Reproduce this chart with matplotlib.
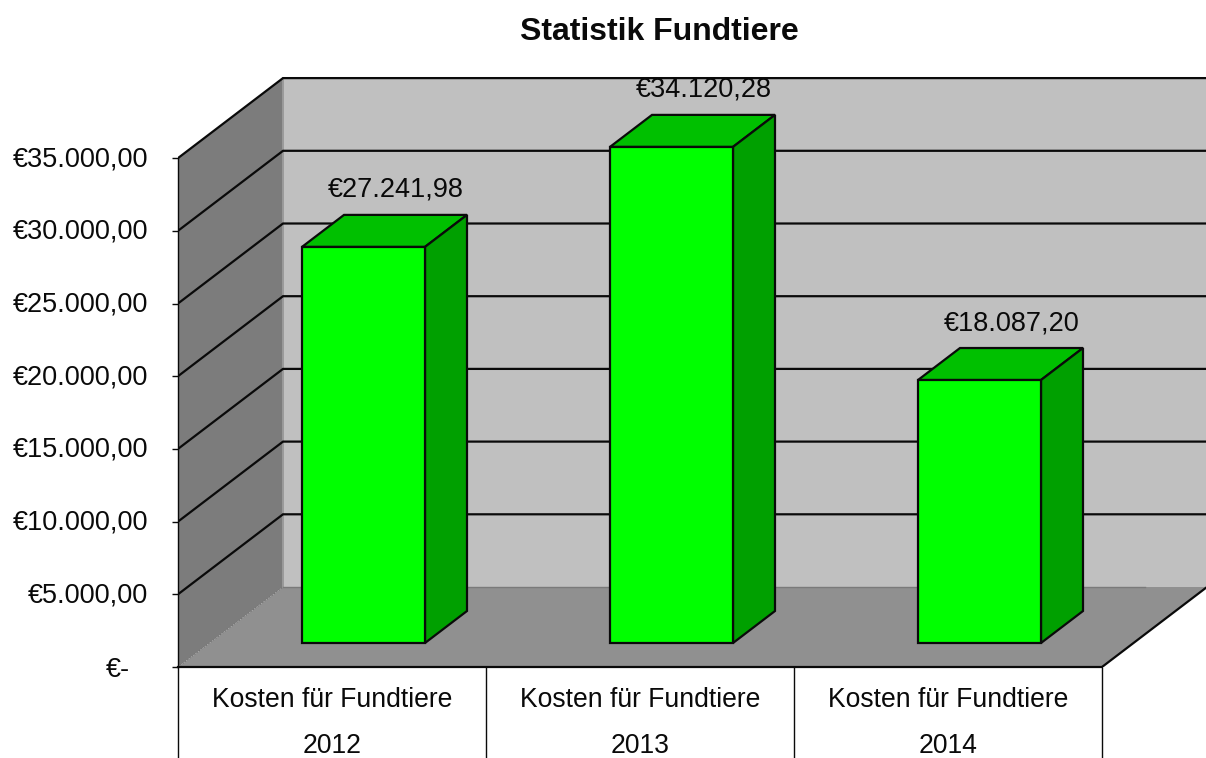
import matplotlib
matplotlib.use('Agg')
import matplotlib.pyplot as plt
from matplotlib.transforms import ScaledTranslation

years = ['2012', '2013', '2014']
category = 'Kosten für Fundtiere'
costs = [27241.98, 34120.28, 18087.20]
cost_labels = ['€27.241,98', '€34.120,28', '€18.087,20']
y_ticks = [0, 5000, 10000, 15000, 20000, 25000, 30000, 35000]
y_labels = ['€-', '€5.000,00', '€10.000,00', '€15.000,00', '€20.000,00',
            '€25.000,00', '€30.000,00', '€35.000,00']
title = 'Statistik Fundtiere'

W, H = 1206, 758
LEFT, BASE = 178, 667          # pixel position of the front axes corner
CAT_PX = 308.0                 # pixels per category
EURO_PX = 5000 / 72.7          # euro per pixel
DEPTH_X = 105 / CAT_PX         # full depth of the box in data units
DEPTH_Y = 80 * EURO_PX
BAR_W = 123 / CAT_PX
Z0, Z1 = 0.3, 0.7              # bar front and back inside the box
EDGE = '#0a0a0a'
LW = 1.6
TXT = '#0a0a0a'

plt.rcParams['font.family'] = ['Liberation Sans', 'DejaVu Sans']
fig = plt.figure(figsize=(W / 100, H / 100), dpi=100)
ax = fig.add_axes([LEFT / W, 1 - BASE / H, (W - LEFT) / W, BASE / H])
ax.set_xlim(0, (W - LEFT) / CAT_PX)
ax.set_ylim(0, BASE * EURO_PX)


def pt(x, y, z=0.0):
    # oblique projection, z runs from the front (0) to the back wall (1)
    return (x + z * DEPTH_X, y + z * DEPTH_Y)


def face(points, color, edge='none', lw=0.0, zorder=1):
    ax.fill(*zip(*points), facecolor=color, edgecolor=edge, linewidth=lw,
            joinstyle='miter', zorder=zorder)


top = y_ticks[-1]
n = len(years)

# walls and floor
face([pt(0, 0, 1), pt(n, 0, 1), pt(n, top, 1), pt(0, top, 1)], '#c0c0c0')
face([pt(0, 0, 0), pt(0, 0, 1), pt(0, top, 1), pt(0, top, 0)], '#7c7c7c')
face([pt(0, 0, 0), pt(n, 0, 0), pt(n, 0, 1), pt(0, 0, 1)], '#909090')
ax.plot(*zip(pt(0, 0, 1), pt(0, top, 1)), color='#9a9a9a', lw=1.4, zorder=2)
ax.plot(*zip(pt(0, 0, 0), pt(0, 0, 1)), color='#6e6e6e', lw=0.8, ls=':', zorder=2)
ax.plot(*zip(pt(0, 0, 1), pt(n - 0.2, 0, 1)), color='#7a7a7a', lw=1.0, zorder=2)

# grid on both walls
for v in y_ticks[1:]:
    ax.plot(*zip(pt(0, v, 0), pt(0, v, 1), pt(n, v, 1)), color=EDGE, lw=LW,
            solid_joinstyle='miter', zorder=3)
ax.plot(*zip(pt(n, 0, 0), pt(n, 0, 1)), color=EDGE, lw=LW, zorder=3)

# bars
for i, (cost, lab) in enumerate(zip(costs, cost_labels)):
    x0 = i + 0.5 - BAR_W / 2
    x1 = i + 0.5 + BAR_W / 2
    face([pt(x0, cost, Z0), pt(x1, cost, Z0), pt(x1, cost, Z1), pt(x0, cost, Z1)],
         '#00c000', EDGE, LW, 4)
    face([pt(x1, 0, Z0), pt(x1, 0, Z1), pt(x1, cost, Z1), pt(x1, cost, Z0)],
         '#00a000', EDGE, LW, 4)
    face([pt(x0, 0, Z0), pt(x1, 0, Z0), pt(x1, cost, Z0), pt(x0, cost, Z0)],
         '#00ff00', EDGE, LW, 4)
    ax.annotate(lab, pt(i + 0.5, cost, Z1), xytext=(-7, 18), textcoords='offset points',
                ha='center', va='center', fontsize=19.5, color=TXT, zorder=5)

# axes
for side in ('top', 'right'):
    ax.spines[side].set_visible(False)
ax.spines['left'].set_bounds(0, top)
ax.spines['bottom'].set_bounds(0, n)
ax.spines['left'].set_linewidth(1.0)
ax.spines['bottom'].set_linewidth(LW)
ax.spines['left'].set_color(EDGE)
ax.spines['bottom'].set_color(EDGE)
ax.spines['left'].set_zorder(6)
ax.spines['bottom'].set_zorder(6)

ax.set_yticks(y_ticks, y_labels, fontsize=19.5, color=TXT)
ax.tick_params(axis='y', length=4.5, width=1.0, color=EDGE, pad=17)
for k, lab in enumerate(ax.get_yticklabels()):
    # "€-" sits further left, the others a little higher than their tick
    shift = (-18, 0) if k == 0 else (0, 2)
    lab.set_transform(lab.get_transform()
                      + ScaledTranslation(shift[0] / 100, shift[1] / 100, fig.dpi_scale_trans))

# category table below the floor: long major ticks are the separators
ax.set_xticks(range(n + 1), [''] * (n + 1))
ax.set_xticks([i + 0.5 for i in range(n)], [category + '\n' + y for y in years],
              minor=True, fontsize=19.1, color=TXT, linespacing=1.99)
ax.tick_params(axis='x', which='major', length=66, width=1.0, color=EDGE)
ax.tick_params(axis='x', which='minor', length=0, pad=14.5)

fig.text(659 / W, 1 - 32 / H, title, ha='center', va='center', fontsize=23,
         fontweight='bold', color=TXT)

fig.savefig('out.png', dpi=100)
